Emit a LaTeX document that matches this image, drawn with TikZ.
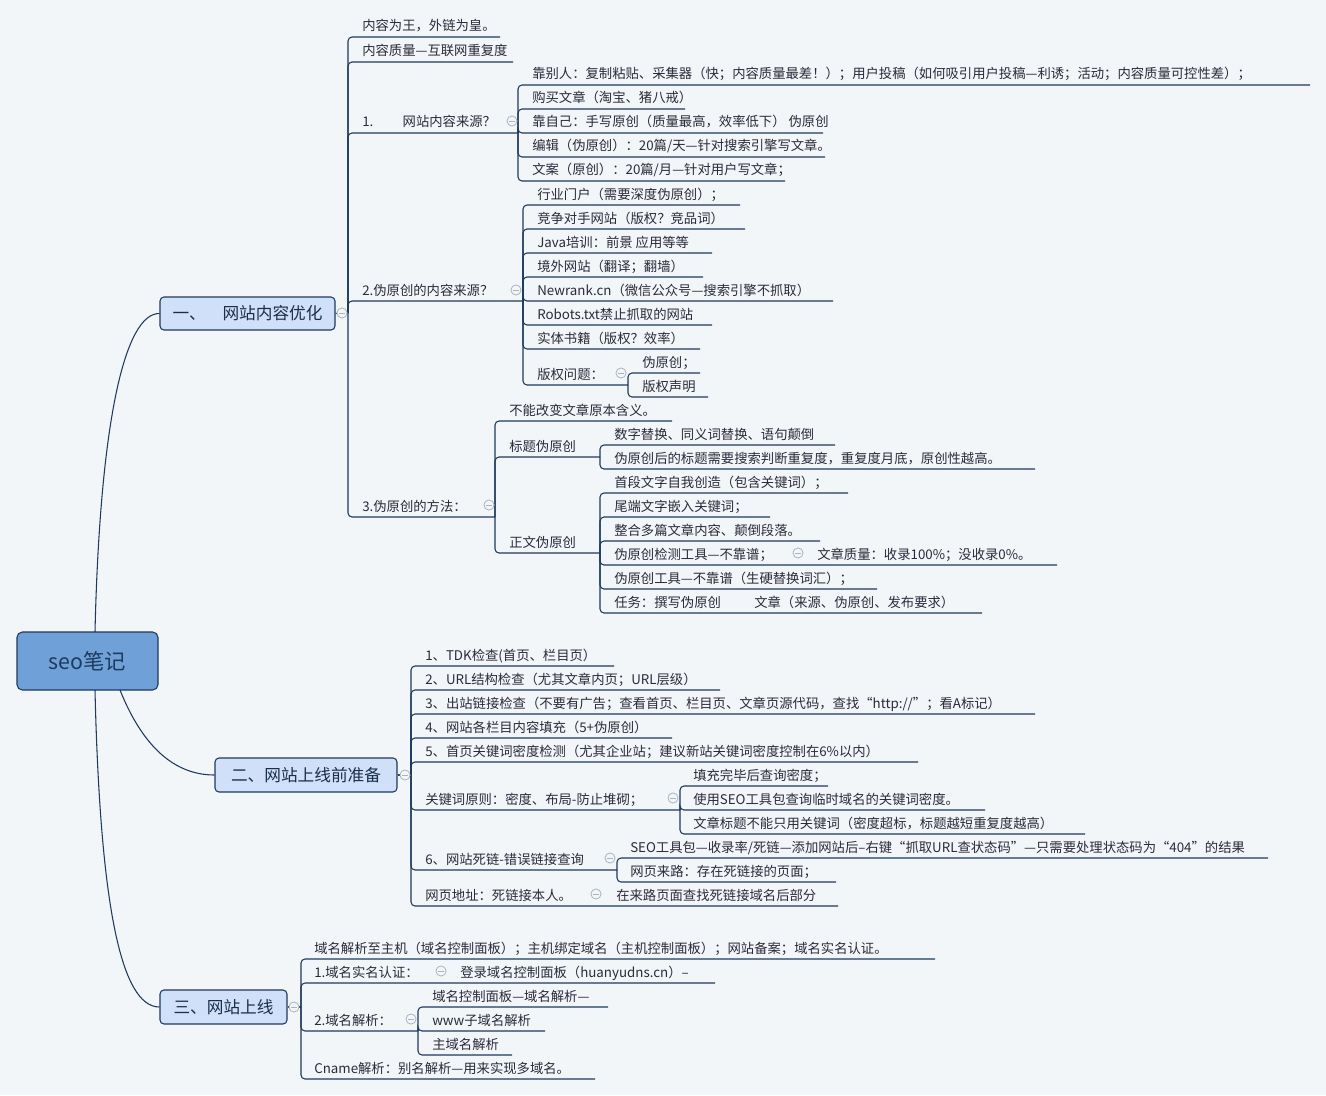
\documentclass[tikz,border=0pt]{standalone}
\usepackage{fontspec}
\setmainfont{Noto Sans CJK SC}
\definecolor{bg}{HTML}{F3F6F9}
\definecolor{ln}{HTML}{1E3A5C}
\definecolor{tx}{HTML}{2A2A3A}
\definecolor{tfill}{HTML}{CFE0F8}
\definecolor{rfill}{HTML}{6FA0D8}
\definecolor{cg}{HTML}{A8B4C0}
\tikzset{
  lnk/.style={draw=ln,line width=0.8pt,rounded corners=3pt},
  lbl/.style={anchor=base west,inner sep=0pt,text=tx,font=\fontsize{10}{12}\selectfont},
  topic/.style={draw=ln,fill=tfill,rounded corners=3pt,line width=0.8pt,text=ln!80!black,font=\fontsize{12.5}{15}\selectfont,inner sep=0pt},
  curve/.style={draw=ln,line width=0.8pt}
}
\newcommand\mmleaf[6]{%
  \draw[lnk] (#1,#2) |- (#5,#4);
  \node[lbl] at (#3,#4-6) {#6};}
\newcommand\mmcol[2]{%
  \draw[cg,fill=bg,line width=0.6pt] (#1,#2) circle (3.8pt);
  \draw[cg,line width=0.6pt] (#1-3,#2) -- (#1+3,#2);}
\begin{document}
\begin{tikzpicture}[x=0.75pt,y=-0.75pt]
\fill[bg] (0,0) rectangle (1326,1095);
\useasboundingbox (0,0) rectangle (1326,1095);
% root and topics
\node[draw=ln,fill=rfill,rounded corners=4pt,line width=0.8pt,minimum width=105.75pt,minimum height=43.5pt,font=\fontsize{16}{19}\selectfont,text=ln] (root) at (87.5,661) {seo笔记};
\node[topic,minimum width=131.25pt,minimum height=24.75pt] (t1) at (247.5,313.5) {一、\quad 网站内容优化};
\node[topic,minimum width=136.5pt,minimum height=25.5pt] (t2) at (306,775) {二、网站上线前准备};
\node[topic,minimum width=95.25pt,minimum height=25.5pt] (t3) at (223.5,1007) {三、网站上线};
\draw[curve] (95,632) .. controls (100,420) and (125,313) .. (t1.west);
\draw[curve] (120,690) .. controls (140,740) and (170,775) .. (t2.west);
\draw[curve] (95,690) .. controls (100,900) and (120,1007) .. (t3.west);
% topic 1
\draw[lnk] (t1.east) -- (348,313);
\mmleaf{348}{313}{362}{37}{500}{内容为王，外链为皇。}
\mmleaf{348}{313}{362}{62}{513}{内容质量—互联网重复度}
\mmleaf{348}{313}{362}{133}{518}{1.\hspace{2.2em}网站内容来源？}
\mmleaf{348}{313}{362}{301}{523}{2.伪原创的内容来源？}
\mmleaf{348}{313}{362}{517}{495}{3.伪原创的方法：}
\mmcol{342}{313}
% 1.
\mmleaf{518}{133}{532}{85}{1310}{靠别人：复制粘贴、采集器（快；内容质量最差！）；用户投稿（如何吸引用户投稿—利诱；活动；内容质量可控性差）；}
\mmleaf{518}{133}{532}{109}{685}{购买文章（淘宝、猪八戒）}
\mmleaf{518}{133}{532}{133}{823}{靠自己：手写原创（质量最高，效率低下） 伪原创}
\mmleaf{518}{133}{532}{157}{825}{编辑（伪原创）：20篇/天—针对搜索引擎写文章。}
\mmleaf{518}{133}{532}{181}{785}{文案（原创）：20篇/月—针对用户写文章；}
\mmcol{512}{121}
% 2.
\mmleaf{523}{301}{537}{205}{740}{行业门户（需要深度伪原创）；}
\mmleaf{523}{301}{537}{229}{745}{竞争对手网站（版权？竞品词）}
\mmleaf{523}{301}{537}{253}{712}{Java培训：前景 应用等等}
\mmleaf{523}{301}{537}{277}{703}{境外网站（翻译；翻墙）}
\mmleaf{523}{301}{537}{301}{833}{Newrank.cn（微信公众号—搜索引擎不抓取）}
\mmleaf{523}{301}{537}{325}{712}{Robots.txt禁止抓取的网站}
\mmleaf{523}{301}{537}{349}{700}{实体书籍（版权？效率）}
\mmleaf{523}{301}{537}{385}{628}{版权问题：}
\mmcol{516}{290}
\mmleaf{628}{385}{642}{373}{700}{伪原创；}
\mmleaf{628}{385}{642}{397}{708}{版权声明}
\mmcol{621}{373}
% 3.
\mmleaf{495}{517}{509}{421}{672}{不能改变文章原本含义。}
\mmleaf{495}{517}{509}{457}{600}{标题伪原创}
\mmleaf{495}{517}{509}{553}{600}{正文伪原创}
\mmcol{489}{505}
\mmleaf{600}{457}{614}{445}{835}{数字替换、同义词替换、语句颠倒}
\mmleaf{600}{457}{614}{469}{1035}{伪原创后的标题需要搜索判断重复度，重复度月底，原创性越高。}
\mmleaf{600}{553}{614}{493}{848}{首段文字自我创造（包含关键词）；}
\mmleaf{600}{553}{614}{517}{770}{尾端文字嵌入关键词；}
\mmleaf{600}{553}{614}{541}{820}{整合多篇文章内容、颠倒段落。}
\mmleaf{600}{553}{614}{565}{1057}{伪原创检测工具—不靠谱；}
\node[lbl] (q) at (817,559) {文章质量：收录100\%；没收录0\%。};
\mmcol{798}{553}
\mmleaf{600}{553}{614}{589}{877}{伪原创工具—不靠谱（生硬替换词汇）；}
\mmleaf{600}{553}{614}{613}{982}{任务：撰写伪原创\hspace{2.5em}文章（来源、伪原创、发布要求）}
% topic 2
\draw[lnk] (t2.east) -- (411,775);
\mmleaf{411}{775}{425}{666}{614}{1、TDK检查(首页、栏目页）}
\mmleaf{411}{775}{425}{690}{720}{2、URL结构检查（尤其文章内页；URL层级）}
\mmleaf{411}{775}{425}{714}{1035}{3、出站链接检查（不要有广告；查看首页、栏目页、文章页源代码，查找“http://”；看A标记）}
\mmleaf{411}{775}{425}{738}{672}{4、网站各栏目内容填充（5+伪原创）}
\mmleaf{411}{775}{425}{762}{918}{5、首页关键词密度检测（尤其企业站；建议新站关键词密度控制在6\%以内）}
\mmleaf{411}{775}{425}{810}{680}{关键词原则：密度、布局-防止堆砌；}
\mmleaf{411}{775}{425}{870}{617}{6、网站死链-错误链接查询}
\mmleaf{411}{775}{425}{906}{838}{网页地址：死链接本人。}
\node[lbl] at (616,900) {在来路页面查找死链接域名后部分};
\mmcol{405}{775}
\mmcol{596}{894}
\mmleaf{680}{810}{693}{786}{828}{填充完毕后查询密度；}
\mmleaf{680}{810}{693}{810}{985}{使用SEO工具包查询临时域名的关键词密度。}
\mmleaf{680}{810}{693}{834}{1085}{文章标题不能只用关键词（密度超标，标题越短重复度越高）}
\mmcol{673}{798}
\mmleaf{617}{870}{630}{858}{1268}{SEO工具包—收录率/死链—添加网站后--右键“抓取URL查状态码”—只需要处理状态码为“404”的结果}
\mmleaf{617}{870}{630}{882}{836}{网页来路：存在死链接的页面；}
\mmcol{610}{858}
% topic 3
\draw[lnk] (t3.east) -- (301,1007);
\mmleaf{301}{1007}{314}{959}{935}{域名解析至主机（域名控制面板）；主机绑定域名（主机控制面板）；网站备案；域名实名认证。}
\mmleaf{301}{1007}{314}{983}{715}{1.域名实名认证：}
\node[lbl] at (460,977) {登录域名控制面板（huanyudns.cn）--};
\mmcol{441}{971}
\mmleaf{301}{1007}{314}{1031}{418}{2.域名解析：}
\mmleaf{301}{1007}{314}{1079}{595}{Cname解析：别名解析—用来实现多域名。}
\mmcol{294}{1007}
\mmleaf{418}{1031}{432}{1007}{608}{域名控制面板—域名解析—}
\mmleaf{418}{1031}{432}{1031}{545}{www子域名解析}
\mmleaf{418}{1031}{432}{1055}{512}{主域名解析}
\mmcol{411}{1019}
\end{tikzpicture}
\end{document}
